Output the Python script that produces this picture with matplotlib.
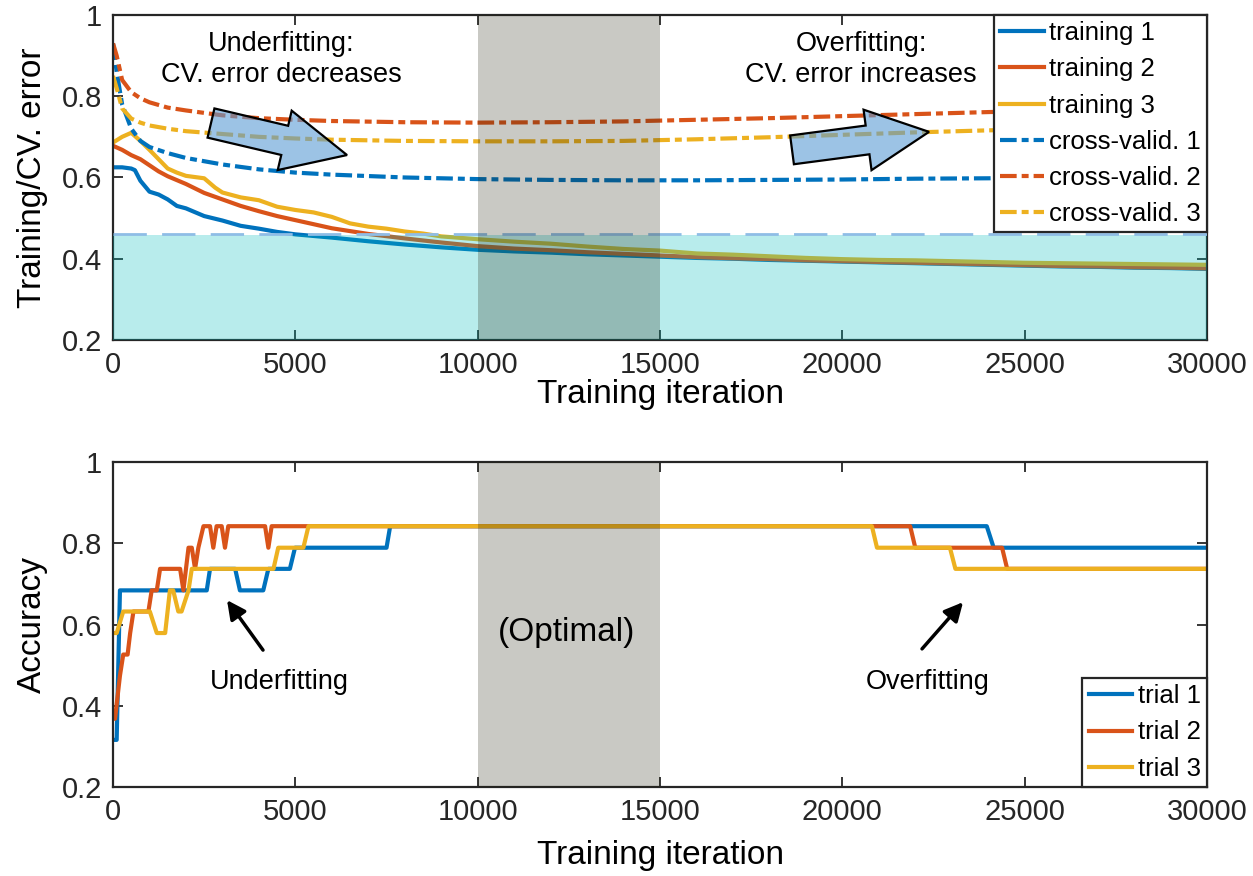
import matplotlib
matplotlib.use('Agg')
import matplotlib.pyplot as plt
from matplotlib import transforms
from matplotlib.patches import FancyArrow

plt.rcParams['font.family'] = ['Liberation Sans', 'DejaVu Sans']
plt.rcParams['lines.scale_dashes'] = False

# MATLAB default line colours
blue, orange, yellow = '#0072BD', '#D95319', '#EDB120'

# ---- training error curves ----
it_t1 = [0, 250, 500, 600, 750, 1000, 1250, 1500, 1750, 2000, 2500, 3000, 3500, 4000, 4500,
         5000, 6000, 7000, 8000, 9000, 10000, 11000, 12000, 13000, 14000, 15000, 16000,
         17000, 18000, 19000, 20000, 21000, 22000, 23000, 24000, 25000, 26000, 27000,
         28000, 29000, 30000]
err_t1 = [0.625, 0.625, 0.622, 0.618, 0.592, 0.565, 0.558, 0.546, 0.530, 0.524, 0.505, 0.494,
          0.481, 0.474, 0.466, 0.460, 0.452, 0.443, 0.435, 0.428, 0.422, 0.418, 0.415, 0.411,
          0.408, 0.405, 0.402, 0.400, 0.397, 0.395, 0.393, 0.391, 0.389, 0.387, 0.385, 0.383,
          0.381, 0.380, 0.378, 0.377, 0.375]

it_t2 = [0, 250, 500, 750, 1000, 1250, 1500, 2000, 2500, 3000, 3500, 4000, 4500, 5000, 6000,
         7000, 8000, 9000, 10000, 11000, 12000, 13000, 14000, 15000, 16000, 17000, 18000,
         19000, 20000, 21000, 22000, 23000, 24000, 25000, 26000, 27000, 28000, 29000, 30000]
err_t2 = [0.678, 0.668, 0.655, 0.645, 0.630, 0.615, 0.603, 0.584, 0.562, 0.546, 0.530, 0.517,
          0.505, 0.495, 0.475, 0.461, 0.450, 0.440, 0.431, 0.425, 0.421, 0.416, 0.412, 0.408,
          0.404, 0.401, 0.399, 0.396, 0.394, 0.392, 0.390, 0.388, 0.386, 0.384, 0.382, 0.381,
          0.379, 0.378, 0.376]

it_t3 = [0, 250, 500, 750, 1000, 1250, 1500, 1750, 2000, 2500, 2800, 3000, 3500, 4000, 4500,
         5000, 5500, 6000, 6500, 7000, 7500, 8000, 8500, 9000, 10000, 11000, 12000, 13000,
         14000, 15000, 16000, 17000, 18000, 19000, 20000, 21000, 22000, 23000, 24000, 25000,
         26000, 27000, 28000, 29000, 30000]
err_t3 = [0.686, 0.700, 0.710, 0.690, 0.668, 0.645, 0.622, 0.612, 0.604, 0.598, 0.575, 0.563,
          0.551, 0.544, 0.528, 0.520, 0.514, 0.503, 0.487, 0.479, 0.474, 0.467, 0.462, 0.455,
          0.448, 0.442, 0.437, 0.430, 0.424, 0.420, 0.413, 0.410, 0.406, 0.402, 0.399, 0.397,
          0.396, 0.394, 0.392, 0.390, 0.389, 0.388, 0.387, 0.386, 0.385]

# ---- cross-validation error curves ----
it_cv = [0, 100, 250, 500, 750, 1000, 1500, 2000, 3000, 4000, 5000, 6000, 8000, 10000, 12000,
         14000, 16000, 18000, 20000, 22000, 24000, 26000, 28000, 30000]
err_cv1 = [0.930, 0.860, 0.780, 0.720, 0.690, 0.675, 0.660, 0.648, 0.632, 0.620, 0.612, 0.607,
           0.600, 0.596, 0.594, 0.593, 0.593, 0.594, 0.595, 0.597, 0.598, 0.600, 0.601, 0.602]
err_cv2 = [0.930, 0.900, 0.840, 0.810, 0.795, 0.785, 0.772, 0.765, 0.753, 0.746, 0.742, 0.739,
           0.736, 0.735, 0.736, 0.738, 0.742, 0.746, 0.751, 0.756, 0.761, 0.765, 0.769, 0.773]
err_cv3 = [0.850, 0.820, 0.770, 0.745, 0.735, 0.728, 0.720, 0.714, 0.707, 0.700, 0.696, 0.693,
           0.690, 0.689, 0.689, 0.690, 0.694, 0.699, 0.705, 0.711, 0.716, 0.720, 0.723, 0.726]

cv_floor = 0.458          # shaded level under the curves
optimal_range = (10000, 15000)

# ---- accuracy per trial ----
it_a1 = [0, 100, 190, 2570, 2660, 3350, 3480, 4120, 4260, 4850, 4990, 7500, 7600, 23960,
         24150, 30000]
acc_a1 = [0.316, 0.316, 0.684, 0.684, 0.737, 0.737, 0.684, 0.684, 0.737, 0.737, 0.789, 0.789,
          0.842, 0.842, 0.789, 0.789]

it_a2 = [0, 55, 190, 280, 400, 470, 560, 970, 1060, 1200, 1290, 1840, 1930, 2070, 2160, 2250,
         2340, 2480, 2660, 2750, 2840, 2980, 3070, 3160, 4170, 4260, 4350, 21860, 22000,
         24380, 24520, 30000]
acc_a2 = [0.368, 0.368, 0.474, 0.526, 0.526, 0.579, 0.632, 0.632, 0.684, 0.684, 0.737, 0.737,
          0.684, 0.789, 0.789, 0.737, 0.789, 0.842, 0.842, 0.789, 0.842, 0.842, 0.789, 0.842,
          0.842, 0.789, 0.842, 0.842, 0.789, 0.789, 0.737, 0.737]

it_a3 = [0, 100, 280, 1010, 1200, 1430, 1560, 1650, 1790, 1880, 2070, 2160, 4400, 4530, 5220,
         5360, 20810, 20950, 22950, 23100, 30000]
acc_a3 = [0.579, 0.579, 0.632, 0.632, 0.579, 0.579, 0.684, 0.684, 0.632, 0.632, 0.684, 0.737,
          0.737, 0.789, 0.789, 0.842, 0.842, 0.789, 0.789, 0.737, 0.737]

xticks = [0, 5000, 10000, 15000, 20000, 25000, 30000]
yticks = [0.2, 0.4, 0.6, 0.8, 1.0]
ytick_labels = ['0.2', '0.4', '0.6', '0.8', '1']

ink = '#262626'
band_color = (30 / 255, 30 / 255, 10 / 255)


def style_axes(ax, xpad):
    ax.set_xlim(0, 30000)
    ax.set_ylim(0.2, 1)
    ax.set_xticks(xticks)
    ax.set_xticklabels([str(t) for t in xticks])
    ax.set_yticks(yticks)
    ax.set_yticklabels(ytick_labels)
    ax.tick_params(direction='in', top=True, right=True, length=7, width=1.3,
                   labelsize=21, colors=ink, pad=8)
    for s in ax.spines.values():
        s.set_color(ink)
        s.set_linewidth(1.6)
    ax.set_xlabel('Training iteration', fontsize=24, labelpad=xpad)
    ax.axvspan(*optimal_range, color=band_color, alpha=0.24, lw=0, zorder=4)


def fat_arrow(ax, x0, y0, dx, dy, width, head_w, head_l):
    # geometry in inches, anchored at a data point
    tr = fig.dpi_scale_trans + transforms.ScaledTranslation(x0, y0, ax.transData)
    arr = FancyArrow(0, 0, dx, dy, width=width, head_width=head_w, head_length=head_l,
                     length_includes_head=True, transform=tr,
                     facecolor=(91 / 255, 155 / 255, 213 / 255, 0.6), edgecolor='k',
                     lw=1.6, zorder=6)
    ax.add_patch(arr)


def boxed_legend(ax, loc):
    leg = ax.legend(loc=loc, fontsize=18.5, frameon=True, fancybox=False, framealpha=1,
                    edgecolor=ink, borderaxespad=0, handlelength=1.7, handletextpad=0.2,
                    labelspacing=0.47, borderpad=0.25)
    leg.get_frame().set_linewidth(1.6)
    leg.set_zorder(10)
    return leg


fig = plt.figure(figsize=(12.53, 8.76), dpi=100)

# ---------------- error plot ----------------
ax1 = fig.add_axes([0.0902, 0.6119, 0.8731, 0.3710])
lw = 3.0
dd = (12, 3.6, 5, 3.6)
ax1.plot(it_t1, err_t1, color=blue, lw=lw, label='training 1')
ax1.plot(it_t2, err_t2, color=orange, lw=lw, label='training 2')
ax1.plot(it_t3, err_t3, color=yellow, lw=lw, label='training 3')
ax1.plot(it_cv, err_cv1, color=blue, lw=lw, dashes=dd, label='cross-valid. 1')
ax1.plot(it_cv, err_cv2, color=orange, lw=lw, dashes=dd, label='cross-valid. 2')
ax1.plot(it_cv, err_cv3, color=yellow, lw=lw, dashes=dd, label='cross-valid. 3')

ax1.axhspan(0.2, cv_floor, color=(0, 0.745, 0.745), alpha=0.28, lw=0, zorder=3)
ax1.axhline(cv_floor + 0.003, color='#8fbde6', lw=2, dashes=(24, 11), zorder=3.5)
style_axes(ax1, 0)
ax1.set_ylabel('Training/CV. error', fontsize=24, labelpad=10)

ax1.text(4607, 0.891, 'Underfitting:\nCV. error decreases', fontsize=19.5,
         ha='center', va='center', linespacing=1.25, zorder=7)
ax1.text(20512, 0.891, 'Overfitting:\nCV. error increases', fontsize=19.5,
         ha='center', va='center', linespacing=1.25, zorder=7)

fat_arrow(ax1, 2687, 0.734, 1.36, -0.32, 0.30, 0.61, 0.64)
fat_arrow(ax1, 18620, 0.668, 1.37, 0.18, 0.29, 0.61, 0.62)

boxed_legend(ax1, 'upper right')

# ---------------- accuracy plot ----------------
ax2 = fig.add_axes([0.0902, 0.1016, 0.8731, 0.3710])
ax2.plot(it_a1, acc_a1, color=blue, lw=lw, label='trial 1')
ax2.plot(it_a2, acc_a2, color=orange, lw=lw, label='trial 2')
ax2.plot(it_a3, acc_a3, color=yellow, lw=lw, label='trial 3')
style_axes(ax2, 10)
ax2.set_ylabel('Accuracy', fontsize=24, labelpad=10)

ax2.text(12450, 0.58, '(Optimal)', fontsize=24, ha='center', va='center', zorder=7)
ax2.text(4552, 0.458, 'Underfitting', fontsize=19.5, ha='center', va='center', zorder=7)
ax2.text(22350, 0.458, 'Overfitting', fontsize=19.5, ha='center', va='center', zorder=7)
arrow_kw = dict(arrowstyle='-|>', color='k', lw=2.5, mutation_scale=28, shrinkA=0, shrinkB=0)
ax2.annotate('', xy=(3126, 0.66), xytext=(4113, 0.537), arrowprops=arrow_kw, zorder=7)
ax2.annotate('', xy=(23310, 0.655), xytext=(22185, 0.54), arrowprops=arrow_kw, zorder=7)

boxed_legend(ax2, 'lower right')

fig.savefig('out.png', dpi=100, facecolor='white')
